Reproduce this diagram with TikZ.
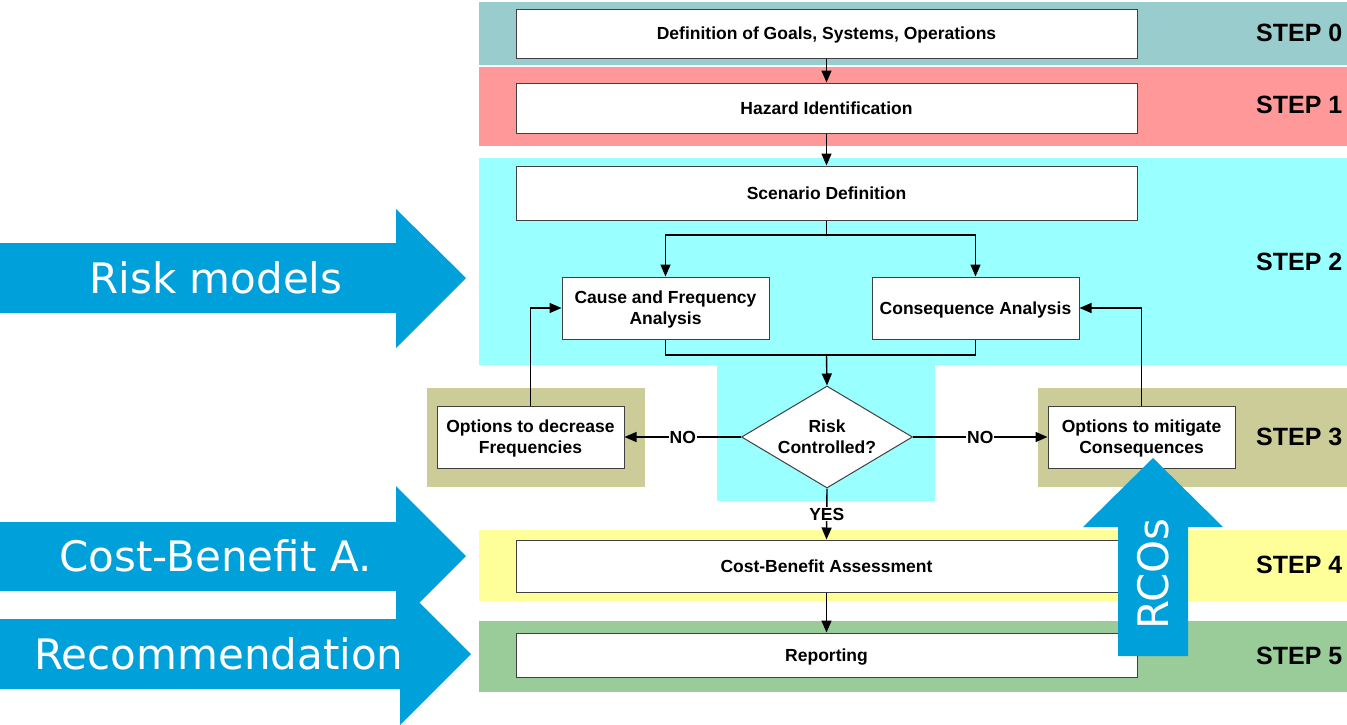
\documentclass[tikz,border=0pt]{standalone}
\usepackage{fontspec}
\setmainfont{Liberation Sans}
\newfontfamily\dvfont{DejaVu Sans}
\usetikzlibrary{arrows.meta,shapes.geometric}
\definecolor{bzero}{HTML}{99CCCC}
\definecolor{bone}{HTML}{FF9999}
\definecolor{btwo}{HTML}{99FFFF}
\definecolor{bthree}{HTML}{CCCC99}
\definecolor{bfour}{HTML}{FFFF99}
\definecolor{bfive}{HTML}{99CC99}
\definecolor{bigblue}{RGB}{0,160,218}
\tikzset{
  procbox/.style={draw=black!75, line width=1pt, fill=white, align=center,
    font=\fontsize{17.5}{21}\selectfont\bfseries, inner sep=2pt, text depth=0pt},
  decbox/.style={procbox, shape=diamond, aspect=1.68},
  steplabel/.style={anchor=west, font=\fontsize{25}{28}\selectfont\bfseries, inner sep=0pt},
  conn/.style={line width=1.4pt, -{Triangle[length=12pt,width=10pt]}},
  plainconn/.style={line width=1.4pt},
  lbl/.style={fill=white, font=\fontsize{17.5}{20}\selectfont\bfseries, inner sep=1pt, text depth=0pt},
  bigtext/.style={text=white, font=\dvfont\fontsize{42}{48}\selectfont, inner sep=0pt}
}
\begin{document}
\begin{tikzpicture}[x=1pt,y=-1pt]
\useasboundingbox (0,0) rectangle (1347,724);
\fill[white] (0,0) rectangle (1347,724);
% bands
\fill[bzero] (479,2) rectangle (1347,65);
\fill[bone] (479,67) rectangle (1347,146);
\fill[btwo] (479,158) rectangle (1347,365);
\fill[btwo] (717,364) rectangle (935,501);
\fill[bthree] (427,388) rectangle (645,487);
\fill[bthree] (1038,388) rectangle (1347,487);
\fill[bfour] (479,530) rectangle (1347,601);
\fill[bfive] (479,621) rectangle (1347,692);
% step labels
\node[steplabel] (s0) at (1256,33) {STEP 0};
\node[steplabel] (s1) at (1256,105) {STEP 1};
\node[steplabel] (s2) at (1256,262) {STEP 2};
\node[steplabel] (s3) at (1256,437) {STEP 3};
\node[steplabel] (s4) at (1256,565) {STEP 4};
\node[steplabel] (s5) at (1256,656) {STEP 5};
% boxes
\node[procbox, minimum width=621pt, minimum height=49pt] (b0) at (826.5,33.5) {Definition of Goals, Systems, Operations};
\node[procbox, minimum width=621pt, minimum height=50pt] (b1) at (826.5,108) {Hazard Identification};
\node[procbox, minimum width=621pt, minimum height=54pt] (sc) at (826.5,193) {Scenario Definition};
\node[procbox, minimum width=207pt, minimum height=62pt] (cf) at (665.5,308) {Cause and Frequency\\Analysis};
\node[procbox, minimum width=207pt, minimum height=62pt] (ca) at (975.5,308) {Consequence Analysis};
\node[decbox, minimum width=171pt, minimum height=102pt, inner sep=0pt] (dia) at (827,437) {Risk\\Controlled?};
\node[procbox, minimum width=187pt, minimum height=62pt] (lo) at (530.5,437) {Options to decrease\\Frequencies};
\node[procbox, minimum width=187pt, minimum height=62pt] (ro) at (1141.5,437) {Options to mitigate\\Consequences};
\node[procbox, minimum width=621pt, minimum height=52pt] (cba) at (826.5,566) {Cost-Benefit Assessment};
\node[procbox, minimum width=621pt, minimum height=44pt] (rep) at (826.5,655) {Reporting};
% connectors
\coordinate (split) at (826.5,235);
\coordinate (merge) at (826.5,355);
\draw[conn] (b0.south) -- (b1.north);
\draw[conn] (b1.south) -- (sc.north);
\draw[plainconn] (sc.south) -- (split);
\draw[conn] (split) -| (cf.north);
\draw[conn] (split) -| (ca.north);
\draw[plainconn] (cf.south) |- (merge) -| (ca.south);
\draw[conn] (merge) -- (dia.north);
\draw[conn] (dia.west) -- node[lbl, pos=0.5] (nol) {NO} (lo.east);
\draw[conn] (dia.east) -- node[lbl, pos=0.5] (nor) {NO} (ro.west);
\draw[conn] (dia.south) -- node[lbl, pos=0.5] (yes) {YES} (cba.north);
\draw[conn] (cba.south) -- (rep.north);
\draw[conn] (lo.north) |- (cf.west);
\draw[conn] (ro.north) |- (ca.east);
% big blue arrows
\fill[bigblue] (0,243) -- (396,243) -- (396,209) -- (466,278) -- (396,348) -- (396,313) -- (0,313) -- cycle;
\fill[bigblue] (0,619) -- (400,619) -- (400,583) -- (471,654) -- (400,725) -- (400,689) -- (0,689) -- cycle;
\fill[bigblue] (0,522) -- (396,522) -- (396,486) -- (466,556) -- (396,626) -- (396,591) -- (0,591) -- cycle;
\fill[bigblue] (1118,656) -- (1118,527) -- (1083,527) -- (1153,458) -- (1223,527) -- (1188,527) -- (1188,656) -- cycle;
\node[bigtext] (tr) at (216,278) {Risk models};
\node[bigtext] (tc) at (215.5,556) {Cost-Benefit A.};
\node[bigtext] (tm) at (219,654) {Recommendation};
\node[bigtext, rotate=90] (tco) at (1153,574) {RCOs};
\end{tikzpicture}
\end{document}
